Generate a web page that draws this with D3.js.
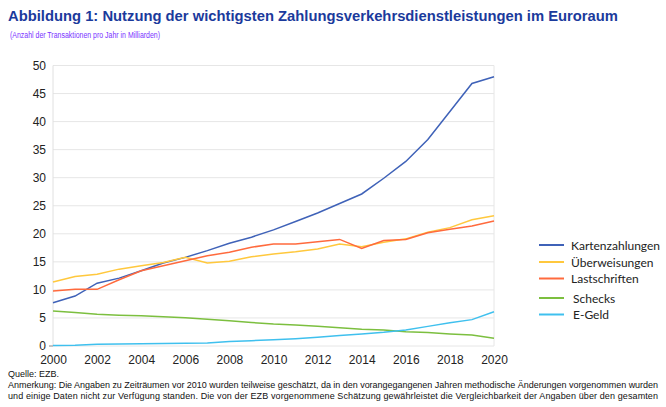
<!DOCTYPE html>
<html><head><meta charset="utf-8">
<script src="https://cdn.jsdelivr.net/npm/d3@7"></script>
<style>body{margin:0;background:#fff}svg{display:block}</style>
</head><body>
<script>
const years = d3.range(2000, 2021);
const kartenzahlungen = [7.7,8.9,11.2,12.1,13.4,14.8,15.8,17.0,18.3,19.4,20.7,22.2,23.7,25.4,27.1,29.9,32.9,36.8,41.8,46.8,48.0];
const ueberweisungen = [11.4,12.4,12.8,13.7,14.3,14.9,15.8,14.8,15.1,15.9,16.4,16.8,17.3,18.2,17.7,18.5,19.1,20.3,21.1,22.5,23.2];
const lastschriften = [9.8,10.1,10.1,11.8,13.4,14.3,15.2,16.1,16.7,17.6,18.2,18.2,18.6,19.0,17.4,18.8,19.0,20.2,20.8,21.4,22.3];
const schecks = [6.25,5.95,5.65,5.5,5.4,5.2,5.05,4.75,4.5,4.2,3.9,3.75,3.5,3.27,3.0,2.85,2.55,2.4,2.15,1.95,1.4];
const egeld = [0.1,0.15,0.3,0.35,0.4,0.45,0.5,0.55,0.8,0.95,1.1,1.3,1.55,1.85,2.15,2.45,2.85,3.5,4.15,4.7,6.1];
const seriesNames = ["Kartenzahlungen","Überweisungen","Lastschriften","Schecks","E-Geld"];
const seriesColors = ["#3f62b8","#ffc83d","#ff6a3d","#7cbf3f","#3fc0ee"];
const seriesData = [kartenzahlungen, ueberweisungen, lastschriften, schecks, egeld];
const yTicks = d3.range(0, 51, 5);
const xTicks = d3.range(2000, 2021, 2);

const W = 666, H = 407;
const svg = d3.select("body").append("svg").attr("width", W).attr("height", H);

svg.append("text").attr("x", 8).attr("y", 21)
  .attr("font-family", "Liberation Sans, Arial, sans-serif").attr("font-weight", "bold")
  .attr("font-size", 15).attr("fill", "#1b3a9c")
  .attr("textLength", 610).attr("lengthAdjust", "spacingAndGlyphs")
  .text("Abbildung 1: Nutzung der wichtigsten Zahlungsverkehrsdienstleistungen im Euroraum");
svg.append("text").attr("x", 10).attr("y", 38)
  .attr("font-family", "Liberation Sans, Arial, sans-serif")
  .attr("font-size", 8.5).attr("fill", "#7a33ff")
  .attr("textLength", 150).attr("lengthAdjust", "spacingAndGlyphs")
  .text("(Anzahl der Transaktionen pro Jahr in Milliarden)");

const x = d3.scaleLinear().domain([2000, 2020]).range([53, 494]);
const y = d3.scaleLinear().domain([0, 50]).range([346, 65.5]);

const g = svg.append("g");
g.selectAll("line.grid").data(yTicks.filter(d => d > 0)).join("line")
  .attr("x1", x(2000)).attr("x2", x(2020))
  .attr("y1", d => y(d)).attr("y2", d => y(d))
  .attr("stroke", "#e6e6e6").attr("stroke-width", 1);
g.append("line").attr("x1", x(2020)).attr("x2", x(2020)).attr("y1", y(50)).attr("y2", y(0))
  .attr("stroke", "#e6e6e6");
g.append("line").attr("x1", x(2000)).attr("x2", x(2000)).attr("y1", y(50)).attr("y2", y(0))
  .attr("stroke", "#e0e0e0");
g.append("line").attr("x1", x(2000)).attr("x2", x(2020)).attr("y1", y(0)).attr("y2", y(0))
  .attr("stroke", "#e6e6e6");

const yAxis = d3.axisLeft(y).tickValues(yTicks).tickSize(0).tickPadding(7);
const ya = svg.append("g").attr("transform", `translate(${x(2000)},0)`).call(yAxis);
ya.select(".domain").remove();
ya.selectAll("text").attr("font-family", "Liberation Sans, Arial, sans-serif")
  .attr("font-size", 12).attr("fill", "#222");
svg.append("line").attr("x1", x(2000) - 4).attr("x2", x(2000)).attr("y1", y(0)).attr("y2", y(0))
  .attr("stroke", "#888");

const xAxis = d3.axisBottom(x).tickValues(xTicks).tickFormat(d3.format("d")).tickSize(0).tickPadding(9);
const xa = svg.append("g").attr("transform", `translate(0,${y(0)})`).call(xAxis);
xa.select(".domain").remove();
xa.selectAll("text").attr("font-family", "Liberation Sans, Arial, sans-serif")
  .attr("font-size", 12).attr("fill", "#222");

const line = d3.line().x((d, i) => x(years[i])).y(d => y(d));
seriesData.forEach((s, i) => {
  svg.append("path").datum(s).attr("d", line).attr("fill", "none")
    .attr("stroke", seriesColors[i]).attr("stroke-width", 1.5);
});

const legY = [245, 262, 278.5, 298, 314.5];
const legTX = [571, 571, 571, 573, 573];
seriesNames.forEach((n, i) => {
  svg.append("line").attr("x1", 539).attr("x2", 564).attr("y1", legY[i]).attr("y2", legY[i])
    .attr("stroke", seriesColors[i]).attr("stroke-width", 2);
  svg.append("text").attr("x", legTX[i]).attr("y", legY[i] + 4.5)
    .attr("font-family", "Lato, sans-serif").attr("font-size", 12).attr("fill", "#222")
    .text(n);
});

const foot = svg.append("g").attr("font-family", "Liberation Sans, Arial, sans-serif")
  .attr("font-size", 9).attr("fill", "#111");
foot.append("text").attr("x", 8).attr("y", 377).text("Quelle: EZB.");
foot.append("text").attr("x", 8).attr("y", 388).attr("textLength", 650).attr("lengthAdjust", "spacing")
  .text("Anmerkung: Die Angaben zu Zeiträumen vor 2010 wurden teilweise geschätzt, da in den vorangegangenen Jahren methodische Änderungen vorgenommen wurden");
foot.append("text").attr("x", 8).attr("y", 399).attr("textLength", 650).attr("lengthAdjust", "spacing")
  .text("und einige Daten nicht zur Verfügung standen. Die von der EZB vorgenommene Schätzung gewährleistet die Vergleichbarkeit der Angaben über den gesamten");
</script>
</body></html>
